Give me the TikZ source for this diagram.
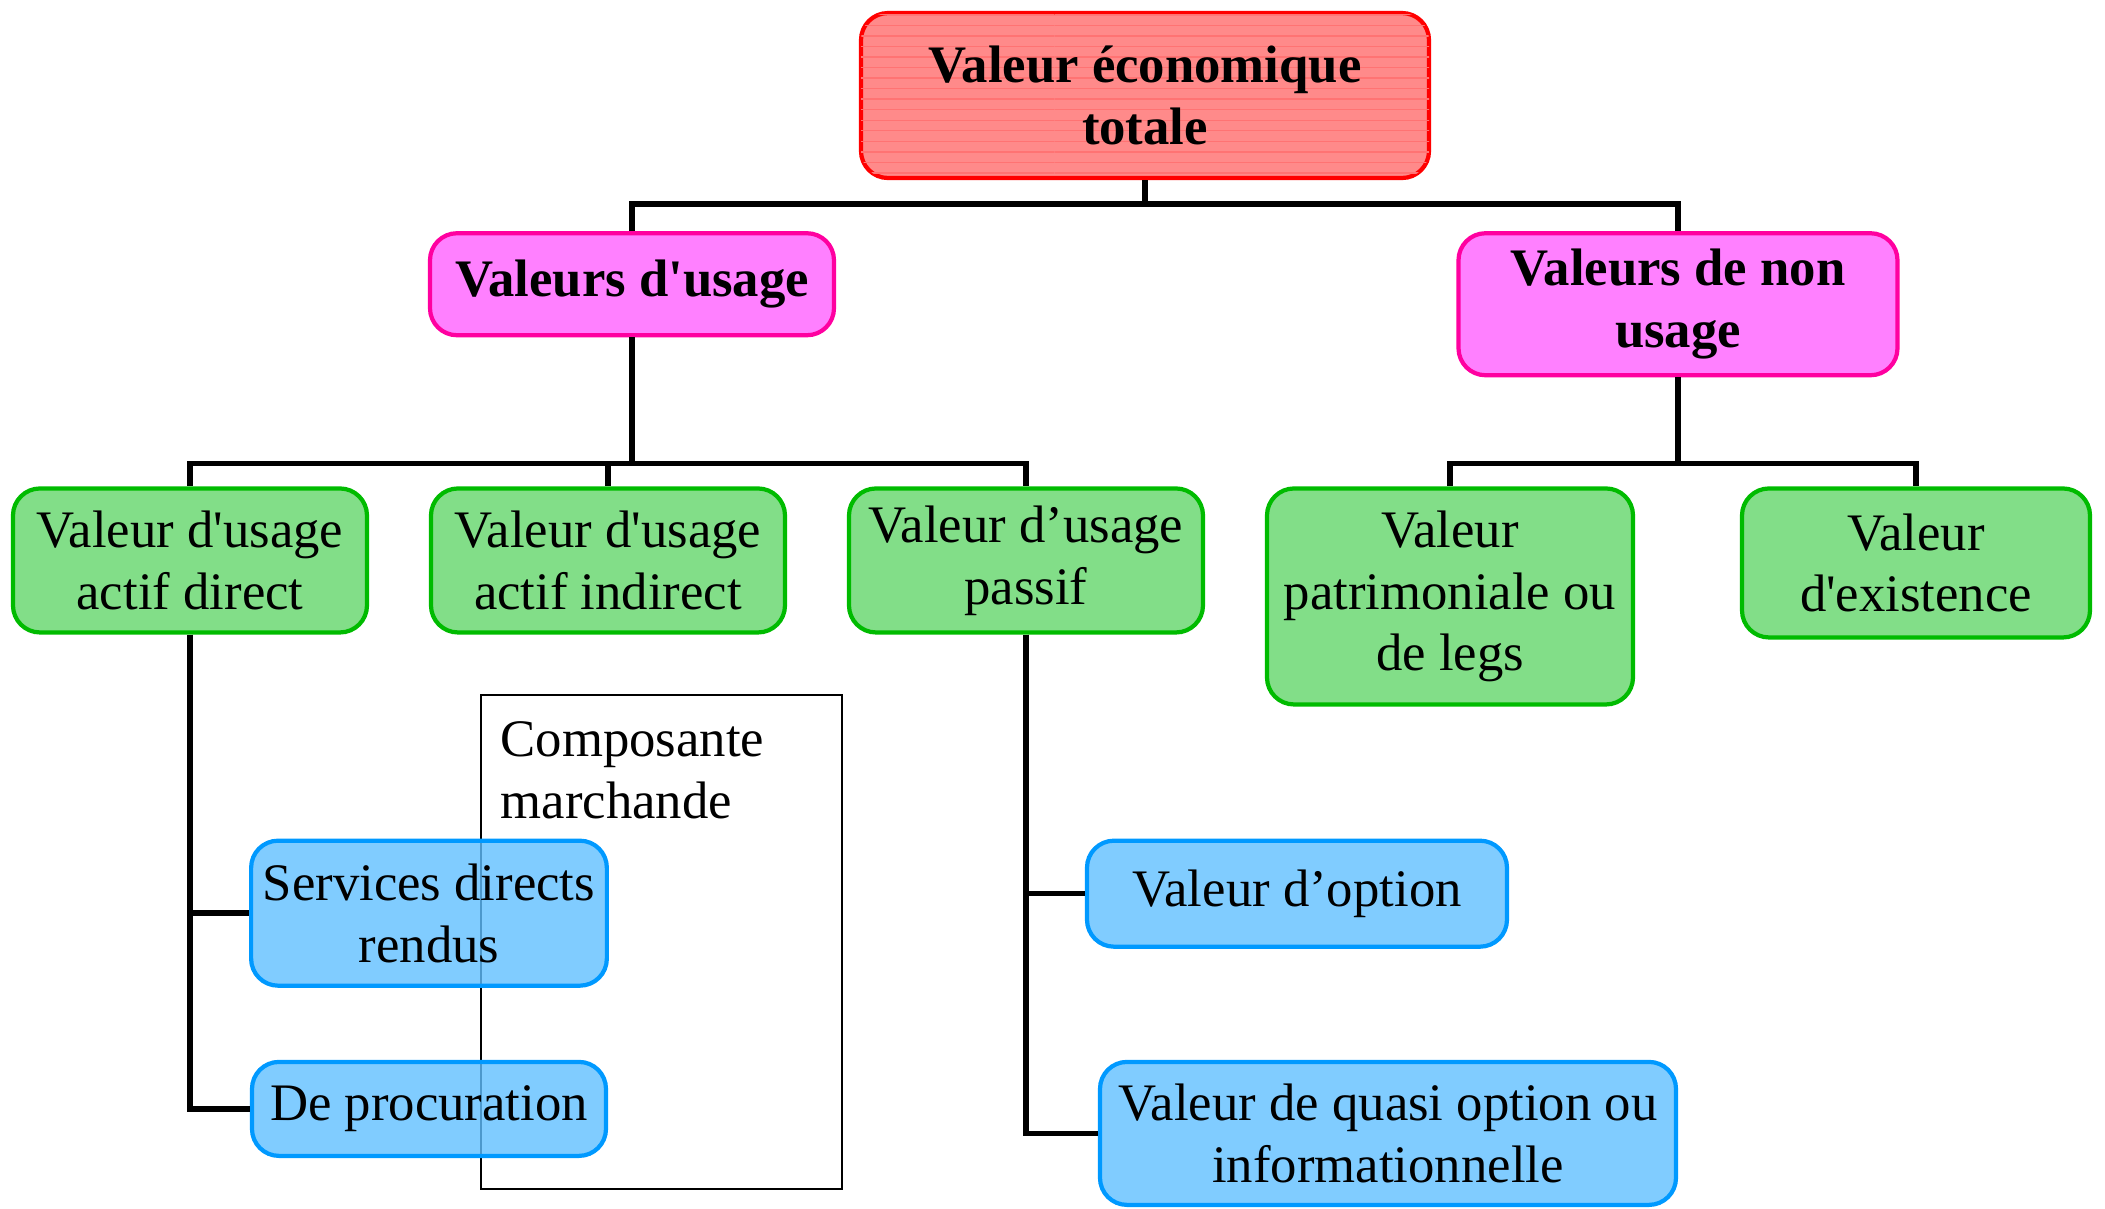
\documentclass[tikz,border=0pt]{standalone}
\usepackage{fontspec}
\setmainfont{Liberation Serif}
\usetikzlibrary{positioning,patterns}
\definecolor{totfill}{RGB}{255,138,138}
\definecolor{totline}{RGB}{255,0,0}
\definecolor{usefill}{RGB}{255,128,255}
\definecolor{useline}{RGB}{255,0,160}
\definecolor{valfill}{RGB}{130,222,136}
\definecolor{valline}{RGB}{0,187,0}
\definecolor{subfill}{RGB}{96,191,255}
\definecolor{subline}{RGB}{0,153,255}
\tikzset{
    %Define standard text size
    txt/.style={font=\fontsize{15}{17.6}\selectfont},
    %Define base style for all boxes
    boite/.style={
           rectangle,
           rounded corners=0.27cm,
           line width=1.2pt,
           align=center,
           txt},
    %Define style for the top box
    totbox/.style={
           boite,
           draw=totline, fill=totfill,
           font=\bfseries\fontsize{15}{17.6}\selectfont,
           postaction={pattern=horizontal lines, pattern color=totline!55}},
    %Define style for the usage boxes
    usebox/.style={
           boite,
           draw=useline, fill=usefill,
           font=\bfseries\fontsize{15}{17.6}\selectfont},
    %Define style for the value boxes
    valbox/.style={
           boite,
           draw=valline, fill=valfill},
    %Define style for the lower boxes
    subbox/.style={
           boite,
           draw=subline, fill=subfill,
           fill opacity=0.8, text opacity=1},
    % Define connector style
    lien/.style={
           line width=1.6pt,
           black}
}

\begin{document}
\begin{tikzpicture}[node distance=0.5cm]
    \useasboundingbox (-11.45,0.955) rectangle (9.60,-11.125);
    \node (total) [totbox, minimum width=5.68cm, minimum height=1.65cm]
          {Valeur économique\\totale};
    \node (usage) [usebox, minimum width=4.04cm, minimum height=1.02cm]
          [below=0.51cm of total, xshift=-5.13cm]
          {Valeurs d\textquotesingle usage};
    \node (nonusage) [usebox, minimum width=4.39cm, minimum height=1.42cm]
          [below=0.51cm of total, xshift=5.33cm]
          {Valeurs de non\\usage};
    \node (direct) [valbox, minimum width=3.54cm, minimum height=1.44cm]
          [below=1.49cm of usage, xshift=-4.42cm]
          {Valeur d\textquotesingle usage\\actif direct};
    \node (indirect) [valbox, minimum width=3.54cm, minimum height=1.44cm]
          [below=1.49cm of usage, xshift=-0.24cm]
          {Valeur d\textquotesingle usage\\actif indirect};
    \node (passif) [valbox, minimum width=3.54cm, minimum height=1.44cm]
          [below=1.49cm of usage, xshift=3.94cm]
          {Valeur d’usage\\passif};
    \node (legs) [valbox, minimum width=3.66cm, minimum height=2.16cm]
          [below=1.09cm of nonusage, xshift=-2.28cm]
          {Valeur\\patrimoniale ou\\de legs};
    \node (existence) [valbox, minimum width=3.48cm, minimum height=1.49cm]
          [below=1.09cm of nonusage, xshift=2.38cm]
          {Valeur\\d\textquotesingle existence};
    % composante marchande
    \node (market) [draw, line width=0.6pt, minimum width=3.61cm, minimum height=4.94cm]
          at (-4.835,-8.465) {};
    \node (markettxt) [txt, align=left, anchor=north west, inner sep=0.15cm]
          at ([xshift=0.05cm,yshift=-0.12cm]market.north west) {Composante\\marchande};
    \node (services) [subbox, minimum width=3.54cm, minimum height=1.45cm]
          [below=2.04cm of direct, xshift=2.39cm]
          {Services directs\\rendus};
    \node (procuration) [subbox, minimum width=3.54cm, minimum height=0.94cm]
          [below=0.72cm of services]
          {De procuration};
    \node (option) [subbox, minimum width=4.20cm, minimum height=1.06cm]
          [below=2.04cm of passif, xshift=2.71cm]
          {Valeur d’option};
    \node (quasi) [subbox, minimum width=5.76cm, minimum height=1.43cm]
          [below=1.11cm of option, xshift=0.91cm]
          {Valeur de quasi option ou\\informationnelle};
    % connecteurs
    \coordinate (bartop) at ([yshift=-0.24cm]total.south);
    \draw [lien] (total.south) -- (bartop) -| (usage.north);
    \draw [lien] (bartop) -| (nonusage.north);
    \coordinate (barusage) at ([yshift=-1.26cm]usage.south);
    \draw [lien] (usage.south) -- (barusage) -| (direct.north);
    \draw [lien] (barusage) -| (indirect.north);
    \draw [lien] (barusage) -| (passif.north);
    \coordinate (barnon) at ([yshift=-0.86cm]nonusage.south);
    \draw [lien] (nonusage.south) -- (barnon) -| (legs.north);
    \draw [lien] (barnon) -| (existence.north);
    \draw [lien] (direct.south) |- (services.west);
    \draw [lien] (direct.south) |- (procuration.west);
    \draw [lien] (passif.south) |- (option.west);
    \draw [lien] (passif.south) |- (quasi.west);
\end{tikzpicture}
\end{document}
